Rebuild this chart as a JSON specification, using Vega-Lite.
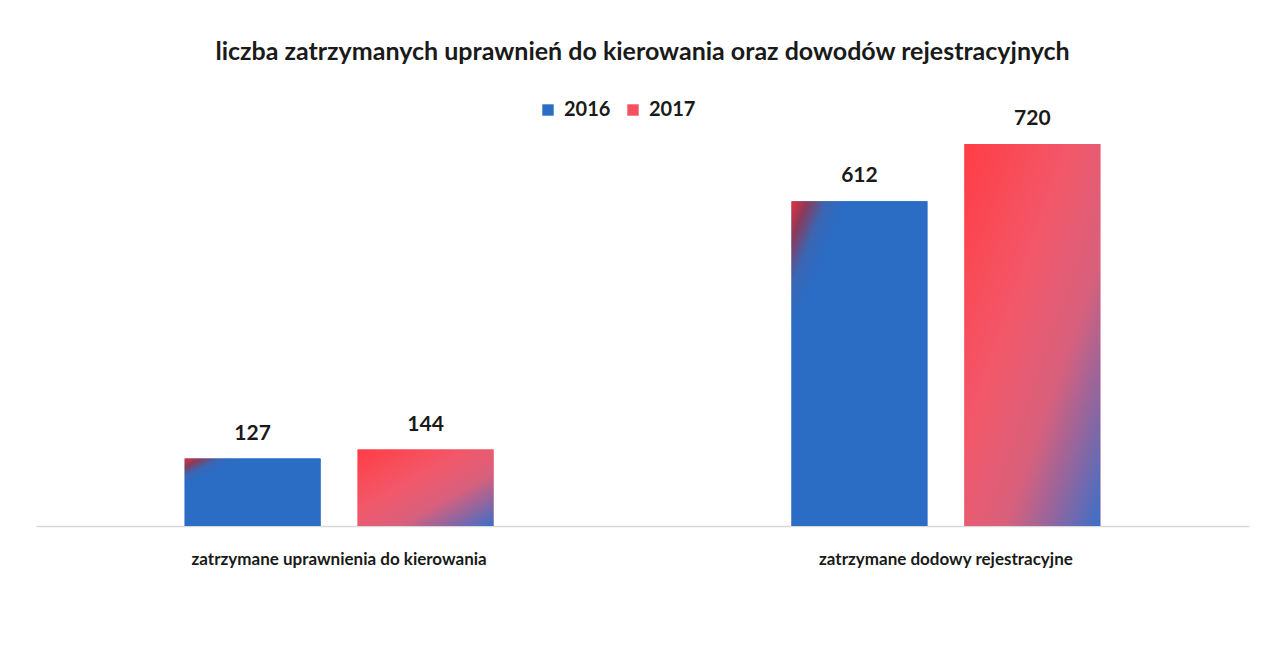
{
  "$schema": "https://vega.github.io/schema/vega-lite/v6.json",
  "width": 1213,
  "height": 382,
  "autosize": {"type": "none"},
  "padding": {"left": 36, "top": 144, "right": 21, "bottom": 130},
  "background": "white",
  "config": {"view": {"stroke": null}},
  "title": {
    "text": "liczba zatrzymanych uprawnień do kierowania oraz dowodów rejestracyjnych",
    "font": "Lato",
    "fontSize": 25,
    "fontWeight": "bold",
    "color": "#1a1a1a",
    "anchor": "middle",
    "offset": 35
  },
  "data": {
    "values": [
      {"kategoria": "zatrzymane uprawnienia do kierowania", "rok": "2016", "liczba": 127},
      {"kategoria": "zatrzymane uprawnienia do kierowania", "rok": "2017", "liczba": 144},
      {"kategoria": "zatrzymane dodowy rejestracyjne", "rok": "2016", "liczba": 612},
      {"kategoria": "zatrzymane dodowy rejestracyjne", "rok": "2017", "liczba": 720}
    ]
  },
  "encoding": {
    "x": {
      "field": "kategoria",
      "type": "nominal",
      "sort": null,
      "scale": {"paddingInner": 0.491, "paddingOuter": 0.245},
      "axis": {
        "title": null,
        "labelAngle": 0,
        "domainColor": "#d9d9d9",
        "domainWidth": 1.5,
        "ticks": false,
        "labelFont": "Lato",
        "labelFontSize": 17,
        "labelFontWeight": "bold",
        "labelColor": "#1a1a1a",
        "labelPadding": 25,
        "labelLimit": 400
      }
    },
    "xOffset": {"field": "rok", "type": "nominal", "scale": {"paddingInner": 0.214, "paddingOuter": 0}},
    "y": {"field": "liczba", "type": "quantitative", "scale": {"domain": [0, 720], "nice": false}, "axis": null}
  },
  "layer": [
    {
      "mark": {"type": "bar"},
      "encoding": {
        "color": {
          "field": "rok",
          "type": "nominal",
          "scale": {"domain": ["2016", "2017"], "range": ["#2B6CC4", "#F5505E"]},
          "legend": {
            "orient": "none",
            "legendX": 502,
            "legendY": -44,
            "direction": "horizontal",
            "title": null,
            "symbolType": "square",
            "symbolSize": 130,
            "symbolStrokeWidth": 0,
            "labelFont": "Lato",
            "labelFontSize": 20,
            "labelFontWeight": "bold",
            "labelColor": "#1a1a1a",
            "columnPadding": 12,
            "labelOffset": 6
          }
        }
      }
    },
    {
      "transform": [{"filter": "datum.rok == '2016'"}],
      "mark": {
        "type": "bar",
        "color": {
          "gradient": "linear",
          "x1": 0, "y1": 0, "x2": 1, "y2": 1,
          "stops": [
            {"offset": 0, "color": "#e8303a"},
            {"offset": 0.06, "color": "#8a3a5a"},
            {"offset": 0.13, "color": "#3a66b4"},
            {"offset": 0.2, "color": "#2B6CC4"},
            {"offset": 1, "color": "#2B6CC4"}
          ]
        }
      }
    },
    {
      "transform": [{"filter": "datum.rok == '2017'"}],
      "mark": {
        "type": "bar",
        "color": {
          "gradient": "linear",
          "x1": 0, "y1": 0, "x2": 1, "y2": 1,
          "stops": [
            {"offset": 0, "color": "#ff3d45"},
            {"offset": 0.4, "color": "#f2586a"},
            {"offset": 0.65, "color": "#d8607c"},
            {"offset": 0.82, "color": "#9066a0"},
            {"offset": 1, "color": "#3a70c8"}
          ]
        }
      }
    },
    {
      "mark": {"type": "text", "dy": -25, "font": "Lato", "fontSize": 21, "fontWeight": "bold", "color": "#1a1a1a"},
      "encoding": {"text": {"field": "liczba", "type": "quantitative"}}
    }
  ]
}
